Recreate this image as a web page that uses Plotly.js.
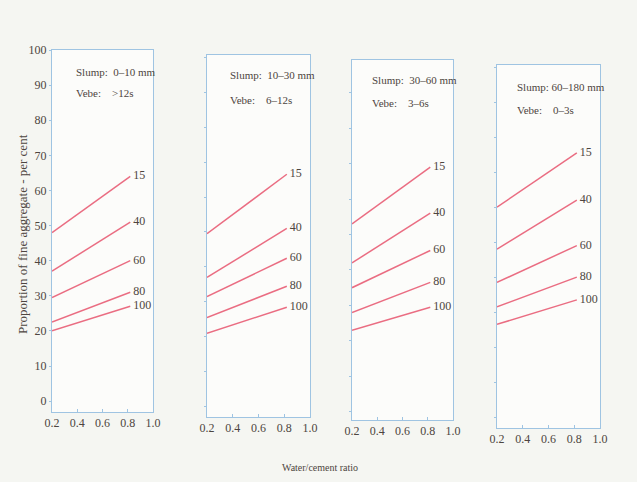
<!DOCTYPE html>
<html>
<head>
<meta charset="utf-8">
<script src="https://cdn.plot.ly/plotly-3.0.1.min.js"></script>
<style>
  html, body { margin: 0; padding: 0; background: #f5f6f2; }
  #chart { width: 637px; height: 482px; }
</style>
</head>
<body>
<div id="chart"></div>
<script>
// Water/cement ratio at the two ends of each line
const wcRatio = [0.2, 0.82];

// Maximum aggregate size curves (per cent passing 600 µm sieve)
const curveLabels = ['15', '40', '60', '80', '100'];

// Proportion of fine aggregate (%) for each workability band
const slump0to10 = {
  '15': [48, 64], '40': [37, 51], '60': [29.5, 40], '80': [22.5, 31], '100': [20, 27]
};
const slump10to30 = {
  '15': [49.5, 66.5], '40': [37, 51], '60': [31.5, 42.5], '80': [25.5, 34.5], '100': [21, 28.5]
};
const slump30to60 = {
  '15': [53, 69], '40': [42, 56], '60': [35, 45.5], '80': [28, 36.5], '100': [23, 29.5]
};
const slump60to180 = {
  '15': [60, 75.5], '40': [48, 62], '60': [38.5, 49], '80': [31.5, 40], '100': [26.5, 33.5]
};

const panelData = [slump0to10, slump10to30, slump30to60, slump60to180];
const slumpText = ['Slump:\u00a0 0\u201310 mm', 'Slump:\u00a0 10\u201330 mm', 'Slump:\u00a0 30\u201360 mm', 'Slump:\u00a060\u2013180 mm'];
const vebeText = ['Vebe:\u00a0\u00a0\u00a0 >12s', 'Vebe:\u00a0\u00a0\u00a0 6\u201312s', 'Vebe:\u00a0\u00a0\u00a0 3\u20136s', 'Vebe:\u00a0\u00a0\u00a0 0\u20133s'];

const xTicks = [0.2, 0.4, 0.6, 0.8, 1.0];
const xTickText = ['0.2', '0.4', '0.6', '0.8', '1.0'];
const yTicks = [0, 10, 20, 30, 40, 50, 60, 70, 80, 90, 100];

// Panel frames in pixels: [left, right, top, bottom], plus the y range each frame spans
const W = 637, H = 482;
const frames = [
  { px: [52, 153, 50, 412], yr: [-3.1, 100] },
  { px: [207, 310, 55, 417], yr: [-2.9, 100.6] },
  { px: [352, 453, 60, 420], yr: [-2.3, 99.2] },
  { px: [497, 600, 65, 428], yr: [-3.1, 100.6] }
];
const annoPos = [
  { x: 0.22, ys: 0.939, yv: 0.880 },
  { x: 0.20, ys: 0.945, yv: 0.876 },
  { x: 0.18, ys: 0.944, yv: 0.880 },
  { x: 0.17, ys: 0.940, yv: 0.876 }
];

const serif = 'Liberation Serif, Times New Roman, serif';
const textColor = '#4d4540';
const lineColor = '#ea6d82';
const frameColor = '#9fc4e2';

const traces = [];
const layout = {
  width: W, height: H,
  margin: { l: 0, r: 0, t: 0, b: 0 },
  paper_bgcolor: '#f5f6f2',
  plot_bgcolor: '#fcfcfa',
  showlegend: false,
  font: { family: serif, color: textColor, size: 11 },
  annotations: []
};

frames.forEach((f, i) => {
  const n = i === 0 ? '' : String(i + 1);
  const xa = 'x' + n, ya = 'y' + n;
  const [l, r, t, b] = f.px;

  layout['xaxis' + n] = {
    domain: [l / W, r / W],
    range: [0.2, 1.0],
    anchor: ya,
    tickvals: xTicks, ticktext: xTickText,
    ticks: 'inside', ticklen: 3, tickcolor: frameColor,
    showline: true, mirror: true, linecolor: frameColor, linewidth: 1,
    showgrid: false, zeroline: false,
    tickfont: { family: serif, size: 12, color: textColor },
    fixedrange: true
  };
  layout['yaxis' + n] = {
    domain: [1 - b / H, 1 - t / H],
    range: f.yr,
    anchor: xa,
    tickvals: yTicks,
    ticks: 'outside', ticklen: 2, tickcolor: frameColor,
    showticklabels: i === 0,
    showline: true, mirror: true, linecolor: frameColor, linewidth: 1,
    showgrid: false, zeroline: false,
    tickfont: { family: serif, size: 12, color: textColor },
    fixedrange: true
  };

  const d = panelData[i];
  curveLabels.forEach(lbl => {
    traces.push({
      type: 'scatter',
      mode: 'lines+text',
      x: wcRatio, y: d[lbl],
      xaxis: xa, yaxis: ya,
      line: { color: lineColor, width: 1.5 },
      text: ['', '\u00a0' + lbl],
      textposition: 'middle right',
      textfont: { family: serif, size: 12, color: textColor },
      cliponaxis: false,
      hoverinfo: 'x+y'
    });
  });

  const a = annoPos[i];
  layout.annotations.push({
    xref: xa + ' domain', yref: ya + ' domain',
    x: a.x, y: a.ys, xanchor: 'left', yanchor: 'middle',
    text: slumpText[i], showarrow: false,
    font: { family: serif, size: 11, color: textColor }
  });
  layout.annotations.push({
    xref: xa + ' domain', yref: ya + ' domain',
    x: a.x, y: a.yv, xanchor: 'left', yanchor: 'middle',
    text: vebeText[i], showarrow: false,
    font: { family: serif, size: 11, color: textColor }
  });
});

// Shared axis titles
layout.annotations.push({
  xref: 'paper', yref: 'paper',
  x: 22 / W, y: 1 - 234 / H, xanchor: 'center', yanchor: 'middle',
  text: 'Proportion of fine aggregate - per cent', textangle: -90,
  showarrow: false, font: { family: serif, size: 13, color: textColor }
});
layout.annotations.push({
  xref: 'paper', yref: 'paper',
  x: 320 / W, y: 1 - 467 / H, xanchor: 'center', yanchor: 'middle',
  text: 'Water/cement ratio',
  showarrow: false, font: { family: serif, size: 10, color: textColor }
});

Plotly.newPlot('chart', traces, layout, { displayModeBar: false, staticPlot: true });
</script>
</body>
</html>
